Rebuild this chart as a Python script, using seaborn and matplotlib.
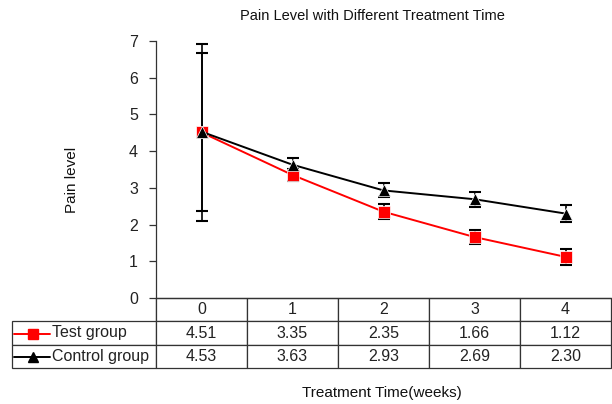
import numpy as np
import pandas as pd
import matplotlib
matplotlib.use("Agg")
import matplotlib.pyplot as plt
import seaborn as sns
from matplotlib.lines import Line2D

weeks = [0, 1, 2, 3, 4]
week_labels = ["0", "1", "2", "3", "4"]
test_vals = [4.51, 3.35, 2.35, 1.66, 1.12]
control_vals = [4.53, 3.63, 2.93, 2.69, 2.30]
test_err = [2.40, 0.17, 0.20, 0.20, 0.22]
control_err = [2.15, 0.17, 0.19, 0.20, 0.23]
groups = ["Test group", "Control group"]
colors = {"Test group": "#ff0000", "Control group": "#000000"}
markers = {"Test group": "s", "Control group": "^"}
title = "Pain Level with Different Treatment Time"
xlabel = "Treatment Time(weeks)"
ylabel = "Pain level"
yticks = [0, 1, 2, 3, 4, 5, 6, 7]

sns.set_style("white")
plt.rcParams["font.family"] = ["Liberation Sans", "DejaVu Sans"]

df = pd.DataFrame({
    "week": weeks * 2,
    "value": test_vals + control_vals,
    "group": [groups[0]] * 5 + [groups[1]] * 5,
})

W, H = 612, 404
fig = plt.figure(figsize=(W / 100, H / 100), dpi=100)
ax_l, ax_r, ax_t, ax_b = 156, 611, 41, 298
ax = fig.add_axes([ax_l / W, 1 - ax_b / H, (ax_r - ax_l) / W, (ax_b - ax_t) / H])

# error bars (drawn under the markers)
for vals, errs in [(test_vals, test_err), (control_vals, control_err)]:
    ax.errorbar(weeks, vals, yerr=errs, fmt="none", ecolor="black",
                elinewidth=1.2, capsize=4, capthick=1.5, zorder=2)

sns.lineplot(data=df, x="week", y="value", hue="group", style="group",
             palette=colors, markers=markers, dashes=False, ax=ax,
             linewidth=1.4, markersize=8, markeredgewidth=0.5,
             legend=False, zorder=3)

ax.set_xlim(-0.5, 4.5)
ax.set_ylim(0, 7)
ax.set_yticks(yticks)
ax.set_yticklabels([str(t) for t in yticks], fontsize=11.5)
ax.set_xticks([])
ax.set_xlabel("")
ax.set_ylabel("")
for s in ["top", "right"]:
    ax.spines[s].set_visible(False)
ax.spines["left"].set_color("#333333")
ax.spines["left"].set_linewidth(0.9)
ax.spines["bottom"].set_color("#333333")
ax.spines["bottom"].set_linewidth(0.9)
ax.tick_params(axis="y", direction="out", length=5, width=0.9,
               color="#333333", left=True, pad=8, labelcolor="#222222")

# data table under the axes
cell_text = [[groups[0]] + [f"{v:.2f}" for v in test_vals],
             [groups[1]] + [f"{v:.2f}" for v in control_vals]]
col_labels = [""] + week_labels
aw = ax_r - ax_l
ah = ax_b - ax_t
lab_w = ax_l - 12
tbl_h = 368 - 298
tbl = ax.table(cellText=cell_text, colLabels=col_labels,
               colWidths=[lab_w / aw] + [1 / 5] * 5,
               cellLoc="center",
               bbox=[-lab_w / aw, -tbl_h / ah, 1 + lab_w / aw, tbl_h / ah])
tbl.auto_set_font_size(False)
for (r, c), cell in tbl.get_celld().items():
    cell.set_edgecolor("#333333")
    cell.set_linewidth(0.9)
    cell.get_text().set_fontsize(11.5)
    cell.get_text().set_color("#222222")
    if r == 0 and c == 0:
        cell.visible_edges = "R"
        cell.get_text().set_text("")
    elif c == 0:
        cell._loc = "left"
        cell.PAD = (52 - 12) / lab_w
        cell.get_text().set_horizontalalignment("left")

# legend keys inside the table row labels
for grp, yc in [(groups[0], 333.5), (groups[1], 356.5)]:
    fig.add_artist(Line2D([14 / W, 50 / W], [1 - yc / H, 1 - yc / H],
                          color=colors[grp], lw=1.4, transform=fig.transFigure))
    fig.add_artist(Line2D([33 / W], [1 - yc / H], color=colors[grp],
                          marker=markers[grp], markersize=6.5, lw=0,
                          transform=fig.transFigure))

fig.text(372 / W, 1 - 16 / H, title, ha="center", va="center",
         fontsize=10.5, color="#111111")
fig.text(382 / W, 1 - 393 / H, xlabel, ha="center", va="center",
         fontsize=11, color="#111111")
fig.text(72 / W, 1 - 180 / H, ylabel, ha="center", va="center",
         rotation=90, fontsize=11, color="#111111")

fig.savefig("out.png", dpi=100)
